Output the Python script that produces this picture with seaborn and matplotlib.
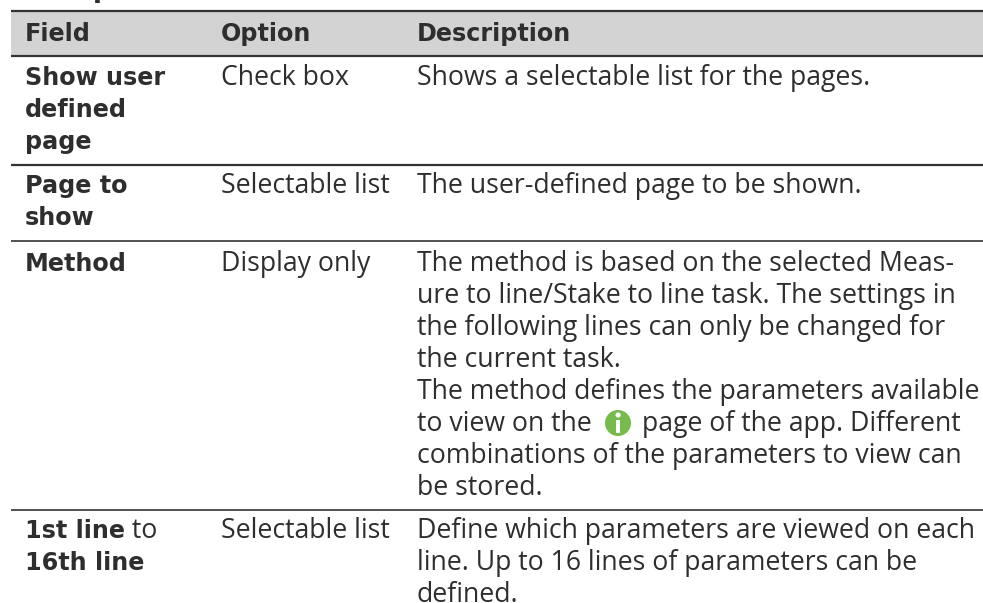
import matplotlib
matplotlib.use("Agg")
import matplotlib.pyplot as plt
import seaborn as sns
from matplotlib.patches import Circle, Rectangle

sns.set_theme(style="white")
plt.rcParams['font.family'] = ['Open Sans', 'DejaVu Sans']

headers = ["Field", "Option", "Description"]
heading_fragment = "Description"
field_cells = [(["Show user", "defined", "page"], 0), (["Page to", "show"], 1),
               (["Method"], 2)]
last_field = [("1st line", "bold"), (" to", "normal")]
last_field2 = "16th line"
option_cells = ["Check box", "Selectable list", "Display only", "Selectable list"]
desc_cells = [
    ["Shows a selectable list for the pages."],
    ["The user-defined page to be shown."],
    ["The method is based on the selected Meas-",
     "ure to line/Stake to line task. The settings in",
     "the following lines can only be changed for",
     "the current task.",
     "The method defines the parameters available",
     "to view on the",
     "combinations of the parameters to view can",
     "be stored."],
    ["Define which parameters are viewed on each",
     "line. Up to 16 lines of parameters can be",
     "defined."],
]
after_icon = "page of the app. Different"

FS = 19.15
FSB = 17.2
INK = "#2e2e2e"
fig = plt.figure(figsize=(9.83, 6.03), dpi=100)
ax = fig.add_axes([0, 0, 1, 1])
ax.set_xlim(0, 983)
ax.set_ylim(603, 0)
ax.axis("off")

X = [25, 221, 417]
LH = 32.0

ax.add_patch(Rectangle((11, 11), 972, 45, fc="#d3d3d3", ec="none"))
for y, lw in [(11, 1.6), (56, 1.6), (165, 1.6), (241, 1.2), (510, 1.2)]:
    ax.plot([11, 983], [y, y], color="#333333", lw=lw, solid_capstyle="butt")

def put(x, y, s, bold=False):
    if bold:
        return ax.text(x, y, s, fontsize=FSB, color=INK, va="baseline",
                       fontweight="bold", family="DejaVu Sans")
    return ax.text(x, y, s, fontsize=FS, color=INK, va="baseline")

ax.text(0, -3, heading_fragment, fontsize=FSB + 2, color=INK, va="baseline",
        fontweight="bold", family="DejaVu Sans")
for x, h in zip(X, headers):
    put(x, 41, h, True)

base = [85, 193, 271, 538]
for (lines, r) in field_cells:
    for i, s in enumerate(lines):
        put(X[0], base[r] + i * LH, s, True)
t = put(X[0], base[3], last_field[0][0], True)
fig.canvas.draw()
bb = t.get_window_extent()
put(bb.x1, base[3], last_field[1][0])
put(X[0], base[3] + LH, last_field2, True)

for r, s in enumerate(option_cells):
    put(X[1], base[r], s)
for r, lines in enumerate(desc_cells):
    for i, s in enumerate(lines):
        put(X[2], base[r] + i * LH, s)
put(642, base[2] + 5 * LH, after_icon)

ax.add_patch(Circle((618, 423), 13, fc="#76bb4b", ec="none"))
ax.add_patch(Rectangle((616, 420), 4.2, 13, fc="white", ec="none"))
ax.add_patch(Circle((618.1, 415), 2.6, fc="white", ec="none"))

fig.savefig("out.png", dpi=100)
